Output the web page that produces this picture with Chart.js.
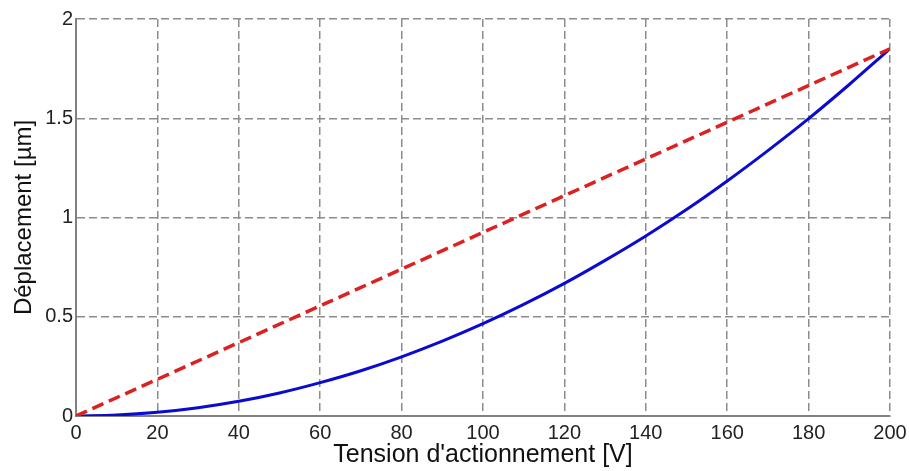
<!DOCTYPE html>
<html>
<head>
<meta charset="utf-8">
<script src="https://cdn.jsdelivr.net/npm/chart.js@4/dist/chart.umd.min.js"></script>
<style>
  html, body { margin: 0; padding: 0; background: #fff; }
  #wrap { width: 909px; height: 471px; }
</style>
</head>
<body>
<div id="wrap"><canvas id="c" width="909" height="471"></canvas></div>
<script>
// Actuation voltage (V)
const voltage = [0, 10, 20, 30, 40, 50, 60, 70, 80, 90, 100, 110, 120, 130, 140, 150, 160, 170, 180, 190, 200];
// Measured displacement (µm), solid blue curve
const displacementMeasured = [0, 0.005, 0.019, 0.042, 0.074, 0.116, 0.168, 0.228, 0.298, 0.377, 0.465, 0.562, 0.668, 0.784, 0.907, 1.04, 1.184, 1.337, 1.498, 1.67, 1.85];
// Linear reference (µm), red dashed line
const linearVoltage = [0, 200];
const displacementLinear = [0, 1.85];
// Axis ticks
const xTicks = [0, 20, 40, 60, 80, 100, 120, 140, 160, 180, 200];
const yTicks = [0, 0.5, 1, 1.5, 2];

const pts = (xs, ys) => xs.map((x, i) => ({ x: x, y: ys[i] }));

const family = '"Liberation Sans", Arial, sans-serif';
const tickFont = { family: family, size: 20 };
const gridStyle = { color: '#8c8c8c', lineWidth: 1.5, drawTicks: false };
// axis border is solid; border.dash only applies to the grid lines
const borderStyle = { display: true, color: '#808080', width: 2, dash: [8, 4] };

new Chart(document.getElementById('c'), {
  type: 'line',
  data: {
    datasets: [
      {
        label: 'Linéaire',
        data: pts(linearVoltage, displacementLinear),
        borderColor: '#dd2020',
        borderWidth: 3.5,
        borderDash: [12, 6],
        pointRadius: 0,
        fill: false,
        order: 1
      },
      {
        label: 'Mesure',
        data: pts(voltage, displacementMeasured),
        borderColor: '#0a0ad0',
        borderWidth: 3,
        cubicInterpolationMode: 'monotone',
        pointRadius: 0,
        fill: false,
        order: 2
      }
    ]
  },
  options: {
    responsive: false,
    animation: false,
    devicePixelRatio: 1,
    layout: { padding: { top: 19, right: 19, left: 0, bottom: 0 } },
    plugins: { legend: { display: false }, tooltip: { enabled: false } },
    scales: {
      x: {
        type: 'linear',
        min: 0,
        max: 200,
        afterBuildTicks: s => { s.ticks = xTicks.map(v => ({ value: v })); },
        afterFit: s => { s.height = 55; s.paddingLeft = 0; s.paddingRight = 0; },
        grid: gridStyle,
        border: borderStyle,
        ticks: { color: '#222', font: tickFont, padding: 5, maxRotation: 0, autoSkip: false },
        title: { display: true, text: "Tension d'actionnement [V]", color: '#111', font: { family: family, size: 25 }, padding: { top: 0, bottom: 1 } }
      },
      y: {
        type: 'linear',
        min: 0,
        max: 2,
        afterBuildTicks: s => { s.ticks = yTicks.map(v => ({ value: v })); },
        afterFit: s => { s.width = 76; s.paddingTop = 0; s.paddingBottom = 0; },
        grid: gridStyle,
        border: borderStyle,
        ticks: { color: '#222', font: tickFont, padding: 3, callback: v => String(v) },
        title: { display: true, text: 'Déplacement [µm]', color: '#111', font: { family: family, size: 24 }, padding: { top: 10, bottom: 0 } }
      }
    }
  }
});
</script>
</body>
</html>
